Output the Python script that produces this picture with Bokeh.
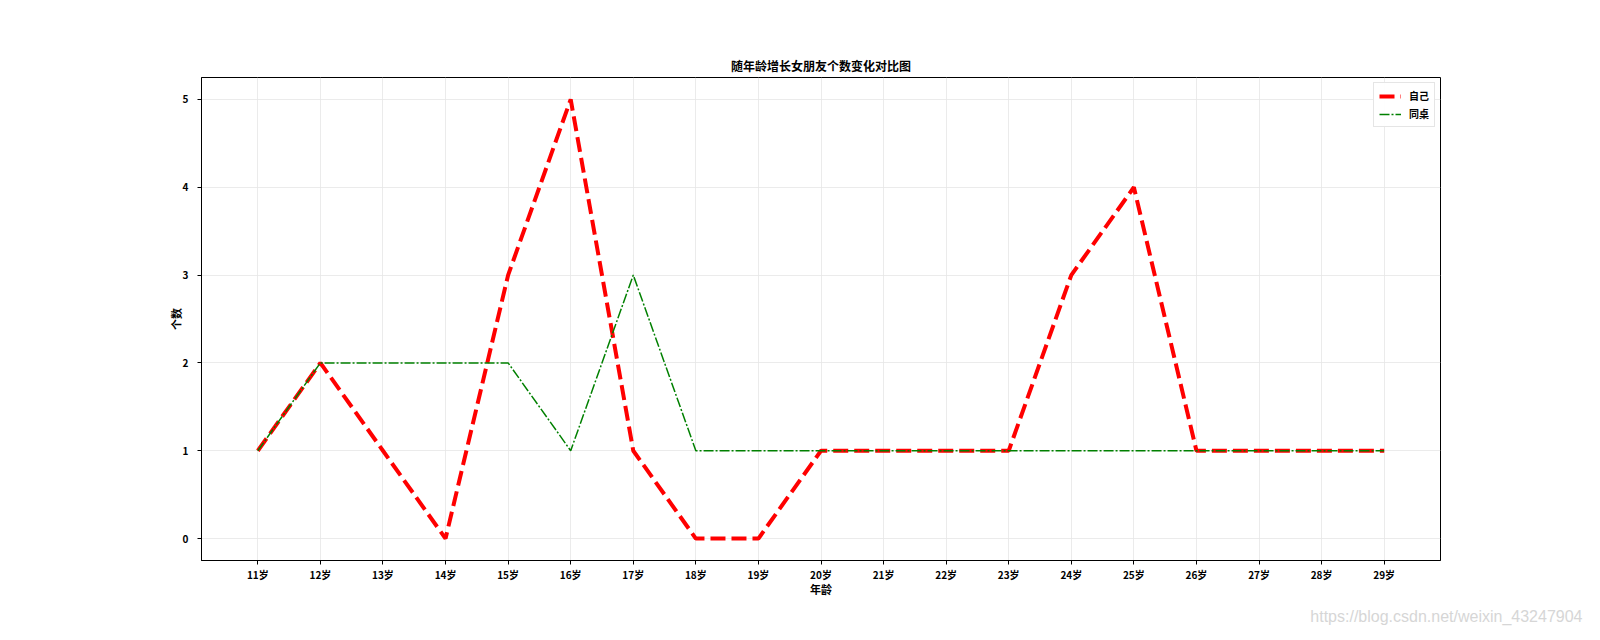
from bokeh.plotting import figure
from bokeh.models import FactorRange, Range1d, FixedTicker, Title, Legend, LegendItem
from bokeh.embed import file_html
from bokeh.resources import INLINE

ages = ["11岁", "12岁", "13岁", "14岁", "15岁", "16岁", "17岁", "18岁", "19岁", "20岁",
        "21岁", "22岁", "23岁", "24岁", "25岁", "26岁", "27岁", "28岁", "29岁"]
self_counts = [1, 2, 1, 0, 3, 5, 1, 0, 0, 1, 1, 1, 1, 3, 4, 1, 1, 1, 1]
mate_counts = [1, 2, 2, 2, 2, 1, 3, 1, 1, 1, 1, 1, 1, 1, 1, 1, 1, 1, 1]
y_ticks = [0, 1, 2, 3, 4, 5]

FONT = "Noto Sans CJK SC"

p = figure(width=1584, height=632, output_backend="svg", toolbar_location=None,
           x_range=FactorRange(factors=ages, range_padding=0.4, range_padding_units="absolute"),
           y_range=Range1d(-0.25, 5.25),
           min_border_left=201, min_border_right=144, min_border_top=77, min_border_bottom=72)

p.title.text = "随年龄增长女朋友个数变化对比图"
p.title.align = "center"
p.title.text_font = FONT
p.title.text_font_size = "12px"
p.title.text_font_style = "bold"
p.title.text_color = "black"
p.title.standoff = 8

p.outline_line_color = "black"
p.outline_line_width = 1
p.outline_line_alpha = 1

for ax in (p.xaxis[0], p.yaxis[0]):
    ax.axis_line_color = "black"
    ax.major_tick_out = 4
    ax.major_tick_in = 0
    ax.minor_tick_out = 0
    ax.minor_tick_in = 0
    ax.major_label_text_font = FONT
    ax.major_label_text_font_size = "10px"
    ax.major_label_text_font_style = "bold"
    ax.major_label_text_color = "black"
    ax.axis_label_text_font = FONT
    ax.axis_label_text_font_size = "11px"
    ax.axis_label_text_font_style = "bold"
    ax.axis_label_text_color = "black"

p.xaxis.axis_label = "年龄"
p.yaxis.axis_label = "个数"
p.xaxis.major_label_standoff = 2
p.yaxis.major_label_standoff = 9
p.xaxis.axis_label_standoff = -4
p.yaxis.axis_label_standoff = -4
p.yaxis.ticker = FixedTicker(ticks=y_ticks)

p.xgrid.grid_line_color = "#e6e6e6"
p.ygrid.grid_line_color = "#e6e6e6"
p.xgrid.grid_line_width = 0.8
p.ygrid.grid_line_width = 0.8

r1 = p.line(ages, self_counts, line_color="red", line_width=4, line_dash="15 6")
r2 = p.line(ages, mate_counts, line_color="green", line_width=1.5, line_dash="10 2 2 2")

legend = Legend(items=[LegendItem(label="自己", renderers=[r1]),
                       LegendItem(label="同桌", renderers=[r2])],
                location="top_right")
legend.label_text_font = FONT
legend.label_text_font_size = "10px"
legend.label_text_font_style = "bold"
legend.label_text_color = "black"
legend.border_line_color = "#cccccc"
legend.border_line_width = 1
legend.glyph_width = 22
legend.glyph_height = 12
legend.label_height = 12
legend.label_standoff = 8
legend.spacing = 3
legend.padding = 5
legend.margin = 5
p.add_layout(legend)

wm = Title(text="https://blog.csdn.net/weixin_43247904", align="right", offset=-142,
           text_font="Liberation Sans", text_font_size="16px", text_font_style="normal",
           text_color="#d6d6d6", standoff=12)
p.add_layout(wm, "below")

open("out.html", "w").write(file_html(p, INLINE))
